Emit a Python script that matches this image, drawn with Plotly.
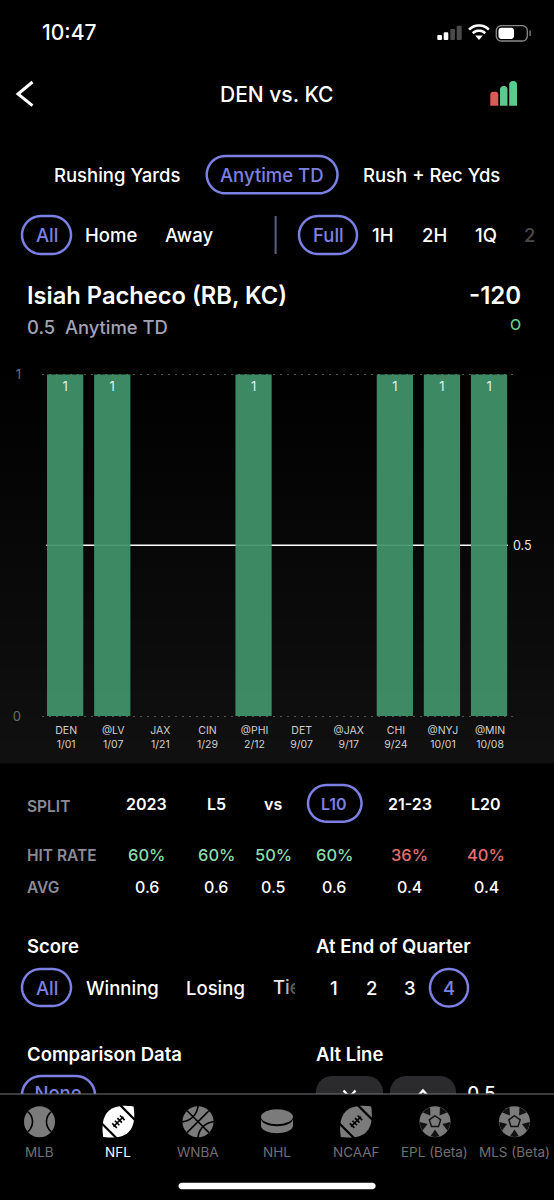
import math
import plotly.graph_objects as go

# ---------- data ----------
opponents = ["DEN", "@LV", "JAX", "CIN", "@PHI", "DET", "@JAX", "CHI", "@NYJ", "@MIN"]
dates = ["1/01", "1/07", "1/21", "1/29", "2/12", "9/07", "9/17", "9/24", "10/01", "10/08"]
touchdowns = [1, 1, 0, 0, 1, 0, 0, 1, 1, 1]
prop_line = 0.5
split_labels = ["2023", "L5", "vs", "L10", "21-23", "L20"]
hit_rates = [60, 60, 50, 60, 36, 40]
averages = [0.6, 0.6, 0.5, 0.6, 0.4, 0.4]
sports = ["MLB", "NFL", "WNBA", "NHL", "NCAAF", "EPL (Beta)", "MLS (Beta)"]

W, H = 554, 1200
FONT = "Inter"
PURPLE = "#7c80e4"
GREEN = "#8edcaa"
RED = "#e2716f"
GRAY = "#7b7b7b"


def X(x):
    return x / W


def Y(y):
    return 1 - y / H


shapes, notes = [], []


def text(x, y, s, size=17, color="white", anchor="center", weight=400):
    if anchor == "left":
        x -= 1.5
    notes.append(dict(x=X(x), y=Y(y), xref="paper", yref="paper", text=s, showarrow=False,
                      xanchor=anchor, yanchor="middle", borderpad=0,
                      font=dict(family=FONT, size=size, color=color, weight=weight)))


def path(points, close=False, fill=None, line=None, width=0, layer="above"):
    d = "M" + " L".join(f"{X(a):.5f},{Y(b):.5f}" for a, b in points) + (" Z" if close else "")
    shapes.append(dict(type="path", xref="paper", yref="paper", path=d, layer=layer,
                       fillcolor=fill or "rgba(0,0,0,0)",
                       line=dict(color=line or "rgba(0,0,0,0)", width=width)))


def rect(x0, y0, x1, y1, fill, layer="above"):
    shapes.append(dict(type="rect", xref="paper", yref="paper", x0=X(x0), x1=X(x1), y0=Y(y1), y1=Y(y0),
                       fillcolor=fill, line=dict(width=0), layer=layer))


def oval(cx, cy, rx, ry, fill=None, line=None, width=0):
    shapes.append(dict(type="circle", xref="paper", yref="paper", x0=X(cx - rx), x1=X(cx + rx),
                       y0=Y(cy + ry), y1=Y(cy - ry), fillcolor=fill or "rgba(0,0,0,0)",
                       line=dict(color=line or "rgba(0,0,0,0)", width=width), layer="above"))


def round_pts(x0, y0, x1, y1, r, tl=True, tr=True, br=True, bl=True):
    pts = []
    corners = [(x1 - r, y0 + r, -90, tr), (x1 - r, y1 - r, 0, br), (x0 + r, y1 - r, 90, bl), (x0 + r, y0 + r, 180, tl)]
    for cx, cy, a, on in corners:
        if on:
            for i in range(13):
                t = math.radians(a + 90 * i / 12)
                pts.append((cx + r * math.cos(t), cy + r * math.sin(t)))
        else:
            t = math.radians(a + 45)
            pts.append((cx + r * math.copysign(1, math.cos(t)), cy + r * math.copysign(1, math.sin(t))))
    return pts


def pill(x0, y0, x1, y1, r=None, color=PURPLE, width=2.5, fill=None):
    r = (y1 - y0) / 2 if r is None else r
    path(round_pts(x0, y0, x1, y1, r), close=True, line=color if width else None, width=width, fill=fill)


def arc(cx, cy, r, a0, a1, n=16):
    return [(cx + r * math.cos(math.radians(a0 + (a1 - a0) * i / n)),
             cy + r * math.sin(math.radians(a0 + (a1 - a0) * i / n))) for i in range(n + 1)]


# ---------- background band behind the chart ----------
for i in range(17):
    rect(0, 350 + i * 413 / 17, W, 350 + (i + 1) * 413 / 17 + 0.5, f"rgb({i},{i},{i})", layer="below")

# ---------- status bar ----------
text(69, 33, "10:47", size=21, weight=500)
for (a, b, top, c) in [(437.3, 442, 35, "white"), (443.7, 448.3, 32.3, "white"),
                       (450.3, 455, 29, "#4a4a4a"), (456.7, 461.7, 25.7, "#4a4a4a")]:
    path(round_pts(a, top, b, 40, 1), close=True, fill=c)
for r in (14, 8.8):
    path(arc(479, 39.5, r, -135, -45), line="white", width=2.6)
path([(479, 40), (475.2, 35.6), (482.8, 35.6)], close=True, fill="white")
pill(496.3, 25.7, 527.3, 41, r=5, color="#8a8a8a", width=1.3)
path(round_pts(498.5, 27.7, 514, 39, 3), close=True, fill="white")
rect(529.3, 30.5, 531, 36, "#666666")

# ---------- header ----------
path([(32.5, 82), (18, 94), (32.5, 105.7)], line="white", width=3)
text(277, 94, "DEN vs. KC", size=21, weight=500)
path(round_pts(490.3, 91.7, 498.3, 105.7, 3, br=False, bl=False), close=True, fill="#dc5a56")
path(round_pts(500, 86, 507.5, 105.7, 3.5, br=False, bl=False), close=True, fill="#5cc98d")
path(round_pts(509.2, 81, 517, 105.7, 3.5, br=False, bl=False), close=True, fill="#5cc98d")

# ---------- market tabs ----------
text(117, 175, "Rushing Yards", size=18.5, weight=500)
pill(206.7, 156, 337.5, 193.3)
text(272, 175, "Anytime TD", size=18.5, color=PURPLE, weight=500)
text(431, 175, "Rush + Rec Yds", size=18.5, weight=500)

# ---------- venue / period filters ----------
pill(22, 216, 71, 254)
text(46.5, 235, "All", size=18.5, color=PURPLE, weight=500)
text(111, 235, "Home", size=18.5, weight=500)
text(189, 235, "Away", size=18.5, weight=500)
path([(275.6, 216), (275.6, 254)], line="#5a6080", width=2)
pill(299, 216, 357, 254)
text(328, 235, "Full", size=18.5, color=PURPLE, weight=500)
text(382.6, 235, "1H", size=18.5, weight=500)
text(434.4, 235, "2H", size=18.5, weight=500)
text(486, 235, "1Q", size=18.5, weight=500)
text(529.5, 235, "2", size=18.5, color="#4a4a4a", weight=500)

# ---------- player ----------
text(27.5, 295, "Isiah Pacheco (RB, KC)", size=23.7, anchor="left", weight=600)
text(522, 295, "-120", size=24, anchor="right", weight=600)
text(27.5, 327, "0.5&#160;&#160;Anytime TD", size=18.4, color="#a3a3b5", anchor="left", weight=500)
text(522, 324, "O", size=14.5, color="#6fd18f", anchor="right", weight=500)

# ---------- split table ----------
col_x = [146.6, 216, 273, 334, 409.5, 486]
text(27.5, 806.5, "SPLIT", size=15.5, color="#8b8b96", anchor="left", weight=600)
text(27.5, 855, "HIT RATE", size=15.5, color="#8b8b96", anchor="left", weight=600)
text(27.5, 887, "AVG", size=15.5, color="#8b8b96", anchor="left", weight=600)
pill(308, 785, 361.5, 821.7)
for cx, lab, hr, avg in zip(col_x, split_labels, hit_rates, averages):
    text(cx, 804, lab, size=16, color=PURPLE if lab == "L10" else "white", weight=600)
    text(cx, 855, f"{hr}%", size=16.5, color=GREEN if hr >= 50 else RED, weight=500)
    text(cx, 887, f"{avg}", size=16, weight=500)

# ---------- score / quarter ----------
text(27.5, 946.5, "Score", size=18.5, anchor="left", weight=600)
text(316, 946.5, "At End of Quarter", size=18.5, anchor="left", weight=600)
pill(22, 969, 71, 1006)
text(46.5, 988, "All", size=18.5, color=PURPLE, weight=500)
text(122, 988, "Winning", size=18.5, weight=500)
text(215.4, 988, "Losing", size=18.5, weight=500)
for cx, q in zip([334, 371, 410], ["1", "2", "3"]):
    text(cx, 988, q, size=18.5, weight=500)
pill(430, 969, 468, 1006.5)
text(449, 988, "4", size=18.5, color=PURPLE, weight=500)

# ---------- comparison / alt line (cut by the tab bar) ----------
text(27.5, 1053.5, "Comparison Data", size=18.5, anchor="left", weight=600)
text(316, 1053.5, "Alt Line", size=18.5, anchor="left", weight=600)
pill(22, 1076, 95, 1114)
pill(316, 1076, 383, 1120, r=16, color=None, width=0, fill="#2b2b2e")
pill(390, 1076, 456, 1120, r=16, color=None, width=0, fill="#2b2b2e")
path([(343.5, 1090.5), (349.5, 1097), (355.5, 1090.5)], line="white", width=2.4)
path([(417, 1097), (423, 1090.5), (429, 1097)], line="white", width=2.4)

# ---------- tab bar ----------
rect(0, 1094, W, H, "black")
rect(0, 1093.6, W, 1094.6, "#777777")


def rotate(pts, cx, cy, deg):
    t = math.radians(deg)
    return [(cx + a * math.cos(t) - b * math.sin(t), cy + a * math.sin(t) + b * math.cos(t)) for a, b in pts]


def football(cx, cy, body):
    half, bulge = 21.5, 14.5
    top = [(half * (2 * i / 24 - 1), -bulge * (1 - (2 * i / 24 - 1) ** 2)) for i in range(25)]
    bottom = [(a, -b) for a, b in reversed(top)]
    path(rotate(top + bottom, cx, cy, -45), close=True, fill=body)
    for u in (-13, 13):
        path(rotate([(u, -14), (u, 14)], cx, cy, -45), line="black", width=2.2)
    path(rotate([(-7, 0), (7, 0)], cx, cy, -45), line="black", width=1.6)
    for u in (-5.5, -1.8, 1.8, 5.5):
        path(rotate([(u, -3.2), (u, 3.2)], cx, cy, -45), line="black", width=1.6)


def baseball(cx, cy):
    oval(cx, cy, 15.5, 15.5, fill=GRAY)
    path(arc(cx - 20, cy, 13, -50, 50), line="black", width=1.6)
    path(arc(cx + 20, cy, 13, 130, 230), line="black", width=1.6)


def basketball(cx, cy):
    oval(cx, cy, 15.5, 15.5, fill=GRAY)
    path(rotate([(-15.5, 0), (15.5, 0)], cx, cy, 45), line="black", width=1.6)
    path(rotate([(0, -15.5), (0, 15.5)], cx, cy, 45), line="black", width=1.6)
    path(arc(cx - 17, cy - 17, 17, 0, 90), line="black", width=1.6)
    path(arc(cx + 17, cy + 17, 17, 180, 270), line="black", width=1.6)


def puck(cx, cy):
    oval(cx, cy - 5, 16, 7.5, fill=GRAY)
    low = [(cx + 16 * math.cos(math.radians(a)), cy + 4 + 7.5 * math.sin(math.radians(a))) for a in range(0, 181, 10)]
    rim = [(cx + 16 * math.cos(math.radians(a)), cy - 3 + 7.5 * math.sin(math.radians(a))) for a in range(180, -1, -10)]
    path(low + rim, close=True, fill=GRAY)


def soccer(cx, cy):
    oval(cx, cy, 15.5, 15.5, fill=GRAY)
    for k in range(5):
        a = -90 + 36 + 72 * k
        wedge = arc(cx, cy, 15.2, a - 17, a + 17, n=6)
        tip = (cx + 7.8 * math.cos(math.radians(a)), cy + 7.8 * math.sin(math.radians(a)))
        path(wedge + [tip], close=True, fill="#111111")
    penta = [(cx + 6 * math.cos(math.radians(-90 + 72 * k)), cy + 6 * math.sin(math.radians(-90 + 72 * k)))
             for k in range(5)]
    path(penta, close=True, fill=GRAY, line="#111111", width=1.4)


tab_x = [39.5, 118.4, 198, 277, 356, 435, 514.5]
baseball(tab_x[0], 1121.7)
football(tab_x[1], 1121.7, "white")
basketball(tab_x[2], 1121.7)
puck(tab_x[3], 1121.7)
football(tab_x[4], 1121.7, GRAY)
soccer(tab_x[5], 1121.7)
soccer(tab_x[6], 1121.7)
for cx, lab in zip(tab_x, sports):
    text(cx, 1152, lab, size=13.5, color="white" if lab == "NFL" else "#707070")

pill(178.5, 1182.7, 375.6, 1189.3, color=None, width=0, fill="white")

# ---------- figure ----------
fig = go.Figure()
fig.add_trace(go.Bar(
    x=list(range(len(touchdowns))), y=touchdowns,
    text=[str(v) if v else "" for v in touchdowns],
    textposition="inside", insidetextanchor="end", textangle=0, constraintext="none",
    textfont=dict(family=FONT, size=13, color="#dff3e6"),
    marker=dict(color="rgba(66,147,108,0.93)", line=dict(width=0)),
    hoverinfo="skip", showlegend=False,
))

# Text cut off by the bottom tab bar lives in a small clipped subplot
fig.add_trace(go.Scatter(
    x=[58, 481.5], y=[1095.5, 1095.5], text=["None", f"{prop_line}"], mode="text",
    textposition="middle center", cliponaxis=True,
    textfont=dict(family=FONT, size=18.5, color=[PURPLE, "white"], weight=500),
    xaxis="x2", yaxis="y2", hoverinfo="skip", showlegend=False,
))
# "Tie" runs off the end of its scroller
fig.add_trace(go.Scatter(
    x=[273], y=[989.5], text=['T<span style="color:#b5b5b5">i</span><span style="color:#5c5c5c">e</span>'],
    mode="text", textposition="middle right", cliponaxis=True,
    textfont=dict(family=FONT, size=18.5, color="#e8e8e8", weight=500),
    xaxis="x3", yaxis="y3", hoverinfo="skip", showlegend=False,
))

shapes.insert(17, dict(type="line", xref="x", yref="y", x0=-0.4, x1=9.4, y0=prop_line, y1=prop_line,
                       line=dict(color="white", width=1.5), layer="below"))
notes.append(dict(x=X(522), y=prop_line, xref="paper", yref="y", text=f"{prop_line}", showarrow=False,
                  xanchor="center", yanchor="middle", font=dict(family=FONT, size=12.5, color="#e8e8e8")))

PAD = 1.5 / 341.5  # keeps the dotted 0 and 1 gridlines inside the plot area
fig.update_layout(
    width=W, height=H, margin=dict(l=0, r=0, t=0, b=0, pad=0, autoexpand=False), autosize=False,
    paper_bgcolor="black", plot_bgcolor="rgba(0,0,0,0)",
    bargap=0.23, shapes=shapes, annotations=notes,
    font=dict(family=FONT, color="white"),
    xaxis=dict(domain=[X(41.6), X(512.6)], range=[-0.5, 9.5], fixedrange=True,
               tickmode="array", tickvals=list(range(len(opponents))),
               ticktext=[f"{o}<br>{d}" for o, d in zip(opponents, dates)],
               ticks="outside", ticklen=3, tickcolor="rgba(0,0,0,0)", ticklabelshift=1,
               tickfont=dict(family=FONT, size=10.5, color="#cfcfcf"),
               showgrid=False, zeroline=False, showline=False),
    yaxis=dict(domain=[Y(717.5), Y(373)], range=[-PAD, 1 + PAD], fixedrange=True,
               tickmode="array", tickvals=[0, 1], ticktext=["0", "1"],
               ticks="outside", ticklen=17, tickcolor="rgba(0,0,0,0)",
               tickfont=dict(family=FONT, size=13, color="#6e6e6e"),
               showgrid=True, gridcolor="#555555", griddash="2px,5px", gridwidth=1,
               zeroline=False, showline=False),
    xaxis2=dict(domain=[0, 1], range=[0, W], visible=False, fixedrange=True, anchor="y2"),
    yaxis2=dict(domain=[Y(1094), Y(1070)], range=[1094, 1070], visible=False, fixedrange=True, anchor="x2"),
    xaxis3=dict(domain=[X(265), X(295)], range=[265, 295], visible=False, fixedrange=True, anchor="y3"),
    yaxis3=dict(domain=[Y(1003), Y(973)], range=[1003, 973], visible=False, fixedrange=True, anchor="x3"),
)

fig.write_html(
    "out.html", include_plotlyjs=True, config=dict(displayModeBar=False, responsive=False),
    post_script="document.body.style.margin='0';document.body.style.overflow='hidden';document.body.style.background='black';",
)
